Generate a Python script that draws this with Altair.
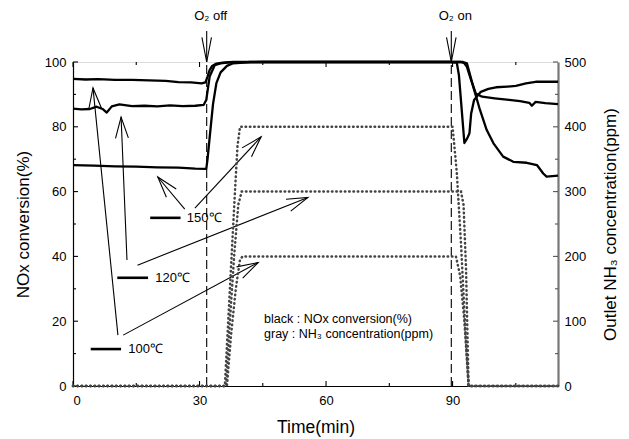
import altair as alt
import numpy as np
import pandas as pd

# ---------------- data ----------------
# NOx conversion (%) vs time (min)
t_100 = [0, 3, 6, 10, 14, 18, 22, 25, 28, 30.5, 31.4, 31.9, 32.4, 33.0, 34.0, 35.5, 38, 45, 60, 75, 89.5,
         91.0, 91.5, 92.0, 92.8, 93.5, 94.0, 94.4, 95.1, 96.7, 98.5, 100.3, 103, 105, 107.4, 109.7, 112, 115]
y_100 = [94.8, 94.6, 94.7, 94.5, 94.5, 94.3, 94.2, 93.8, 93.7, 93.4, 93.7, 95.5, 97.5, 98.8, 99.5, 99.8, 100, 100, 100, 100, 100,
         99.8, 96, 88, 75, 76.5, 78, 84, 88.3, 90.8, 91.7, 92.2, 92.4, 92.6, 93.4, 93.9, 93.9, 93.9]

t_120 = [0, 2, 4, 5.6, 7, 8, 9.2, 11, 14, 17, 20, 23, 26, 29, 31.0, 31.6, 32.4, 33.6, 35, 37, 45, 60, 75, 89.5,
         92.0, 92.8, 93.4, 94.4, 95.5, 97, 100, 103.4, 106, 108.2, 108.8, 109.7, 112, 115]
y_120 = [85.6, 85.4, 85.5, 86.2, 85.5, 84.4, 86.3, 86.9, 86.4, 86.5, 86.3, 86.6, 86.4, 86.5, 86.8, 88.3, 95.5, 99.0, 99.6, 99.9, 100, 100, 100, 100,
         100, 99.6, 98.5, 94.4, 90.3, 89.3, 88.8, 88.3, 87.9, 87.4, 86.5, 87.7, 87.3, 87.0]

t_150 = [0, 5, 10, 15, 20, 25, 29, 31.6, 31.9, 32.5, 33.2, 34.0, 35.0, 36.5, 38, 42, 60, 75, 89.5,
         92.5, 93.4, 94.9, 96.5, 98.1, 99.7, 102.0, 104.4, 107.6, 110.0, 111.5, 112.3, 115]
y_150 = [68.2, 68.0, 67.8, 67.7, 67.5, 67.4, 67.1, 67.0, 70, 78, 87, 93.5, 96.8, 98.8, 99.6, 100, 100, 100, 100,
         100, 99.6, 92.4, 85.2, 79.0, 74.9, 70.8, 69.2, 68.9, 68.2, 65.6, 64.6, 64.9]

# Outlet NH3 (ppm) vs time (min)
nh3_t_400 = [0, 36.0, 36.8, 37.6, 38.4, 39.0, 39.6, 90.0, 91.0, 92.0, 93.0, 93.8, 115]
nh3_y_400 = [0, 0, 100, 200, 300, 370, 400, 400, 330, 220, 90, 0, 0]
nh3_t_300 = [0, 36.3, 37.2, 38.2, 39.2, 40.0, 92.0, 92.6, 93.2, 93.8, 115]
nh3_y_300 = [0, 0, 100, 200, 280, 300, 300, 280, 180, 0, 0]
nh3_t_200 = [0, 36.5, 37.5, 38.6, 39.6, 40.2, 90.8, 91.8, 92.8, 93.8, 115]
nh3_y_200 = [0, 0, 80, 150, 195, 200, 200, 170, 100, 0, 0]

# O2 switching times
o2_t = [31.7, 89.7]
o2_text = ["O₂ off", "O₂ on"]

# temperature labels (legend-like annotations)
temp_labels = ["150℃", "120℃", "100℃"]
label_line_t0 = [18.3, 10.5, 4.2]
label_line_t1 = [25.5, 17.8, 11.4]
label_y = [51.9, 33.4, 11.4]
label_text_t = [27.0, 19.5, 13.1]

# annotation arrows (start -> tip), in data units (min, %)
arrow_t0 = [26.5, 28.9, 12.8, 15.3, 10.65, 11.9]
arrow_y0 = [54.6, 54.9, 38.9, 37.3, 15.7, 15.7]
arrow_t1 = [20.1, 44.6, 11.4, 55.7, 4.74, 43.9]
arrow_y1 = [64.5, 76.9, 83.0, 58.2, 92.0, 38.1]

note_lines = ["black : NOx conversion(%)", "gray : NH₃ concentration(ppm)"]

x_major = [0, 30, 60, 90]
x_minor = [15, 45, 75, 105]
y_major = [0, 20, 40, 60, 80, 100]
y_minor = [10, 30, 50, 70, 90]
r_major = [0, 100, 200, 300, 400, 500]
r_minor = [50, 150, 250, 350, 450]

# ---------------- build ----------------
W, H = 485, 324
TMAX = 115
sx, sy = W / TMAX, H / 100.0
FONT = "Liberation Sans"

def heads(t0s, y0s, t1s, y1s, L, phi_deg):
    rows = []
    phi = np.radians(phi_deg)
    for i, (a, b, c, d) in enumerate(zip(t0s, y0s, t1s, y1s)):
        dx, dy = (c - a) * sx, (d - b) * sy
        ang = np.arctan2(dy, dx)
        for k, s in enumerate([1, 0, -1]):
            if s == 0:
                rows.append({"id": i, "k": k, "t": c, "y": d})
            else:
                wx = c - L * np.cos(ang + s * phi) / sx
                wy = d - L * np.sin(ang + s * phi) / sy
                rows.append({"id": i, "k": k, "t": wx, "y": wy})
    return pd.DataFrame(rows)

nox = pd.concat([
    pd.DataFrame({"t": t_100, "y": y_100, "s": "100"}),
    pd.DataFrame({"t": t_120, "y": y_120, "s": "120"}),
    pd.DataFrame({"t": t_150, "y": y_150, "s": "150"}),
])
nh3 = pd.concat([
    pd.DataFrame({"t": nh3_t_400, "p": nh3_y_400, "s": "400"}),
    pd.DataFrame({"t": nh3_t_300, "p": nh3_y_300, "s": "300"}),
    pd.DataFrame({"t": nh3_t_200, "p": nh3_y_200, "s": "200"}),
])

xscale = alt.Scale(domain=[0, TMAX], nice=False, zero=False)
yscale = alt.Scale(domain=[0, 100], nice=False)
rscale = alt.Scale(domain=[0, 500], nice=False)

X = alt.X("t:Q", scale=xscale, title="Time(min)",
          axis=alt.Axis(values=x_major, tickSize=0, labelPadding=8, labelFontSize=13,
                        titleFontSize=17.5, titlePadding=11, grid=False,
                        domainColor="black", domainWidth=1.2, labelColor="black",
                        titleFontWeight="normal", labelFont=FONT, titleFont=FONT))
X2 = alt.X2("t2")
Y = alt.Y("y:Q", scale=yscale, title="NOx conversion(%)",
          axis=alt.Axis(values=y_major, tickSize=0, labelPadding=7, labelFontSize=13,
                        titleFontSize=17, titlePadding=12, grid=False, orient="left",
                        domainColor="black", domainWidth=1.2, labelColor="black",
                        titleFontWeight="normal", labelFont=FONT, titleFont=FONT))
R = alt.Y("p:Q", scale=rscale, title="Outlet NH₃ concentration(ppm)",
          axis=alt.Axis(values=r_major, tickSize=0, labelPadding=6, labelFontSize=13,
                        titleFontSize=17, grid=False, orient="right",
                        titleAngle=270, titleX=52, titleY=H / 2, titleAlign="center",
                        titleBaseline="middle",
                        domainColor="#777", domainWidth=2.2, labelColor="black",
                        titleFontWeight="normal", labelFont=FONT, titleFont=FONT))

nox_lines = alt.Chart(nox).mark_line(color="black", strokeWidth=2.3, strokeJoin="round").encode(
    x=X, y=Y, detail="s:N", order=alt.Order("t:Q"))

# dashed O2 lines
o2_df = pd.DataFrame({"t": o2_t, "y": [0, 0], "y2": [100, 100], "label": o2_text,
                      "ya": [109.6, 109.6], "yt": [114.3, 114.3]})
o2_rules = alt.Chart(o2_df).mark_rule(color="black", strokeWidth=1.1, strokeDash=[9, 4]).encode(
    x=X, y=Y, y2=alt.Y2("y2"))
o2_shaft = alt.Chart(o2_df).mark_rule(color="black", strokeWidth=1.1).encode(
    x=X, y=alt.Y("ya:Q", scale=yscale), y2=alt.Y2("y2"))
o2_heads = alt.Chart(heads(o2_t, [109.6, 109.6], o2_t, [100, 100], 25, 11)).mark_line(
    color="black", strokeWidth=1.1).encode(x=X, y=Y, detail="id:N", order=alt.Order("k:Q"))
o2_txt = alt.Chart(o2_df).mark_text(fontSize=13, font=FONT, color="black", dx=4).encode(
    x=X, y=alt.Y("yt:Q", scale=yscale), text="label:N")

# temperature labels
lab_df = pd.DataFrame({"t": label_line_t0, "t2": label_line_t1, "y": label_y,
                       "tt": label_text_t, "txt": temp_labels})
lab_lines = alt.Chart(lab_df).mark_rule(color="black", strokeWidth=2.6).encode(x=X, x2=X2, y=Y)
lab_txt = alt.Chart(lab_df).mark_text(fontSize=13, font=FONT, align="left", baseline="middle",
                                      color="black").encode(
    x=alt.X("tt:Q", scale=xscale), y=Y, text="txt:N")

# arrows
arr_df = pd.DataFrame({"t": arrow_t0, "y": arrow_y0, "t2": arrow_t1, "y2": arrow_y1})
arr_shafts = alt.Chart(arr_df).mark_rule(color="black", strokeWidth=1.1).encode(
    x=X, y=Y, x2=X2, y2=alt.Y2("y2"))
arr_heads = alt.Chart(heads(arrow_t0, arrow_y0, arrow_t1, arrow_y1, 22, 17)).mark_line(
    color="black", strokeWidth=1.1).encode(x=X, y=Y, detail="id:N", order=alt.Order("k:Q"))

# note text
note_df = pd.DataFrame({"t": [45.3, 45.3], "y": [20.6, 16.2], "txt": note_lines})
note = alt.Chart(note_df).mark_text(fontSize=12.5, font=FONT, align="left", baseline="middle",
                                    color="black").encode(x=X, y=Y, text="txt:N")

# inward ticks
def xticks(vals, y0, y1):
    return alt.Chart(pd.DataFrame({"t": vals})).mark_rule(color="black", strokeWidth=1.1).encode(
        x=X, y=alt.value(y0), y2=alt.value(y1))

def yticks(vals, x0, x1):
    return alt.Chart(pd.DataFrame({"y": vals})).mark_rule(color="black", strokeWidth=1.1).encode(
        y=Y, x=alt.value(x0), x2=alt.value(x1))

def rticks(vals, x0, x1):
    return alt.Chart(pd.DataFrame({"p": vals})).mark_rule(color="#555", strokeWidth=1.1).encode(
        y=R, x=alt.value(x0), x2=alt.value(x1))

left_group = alt.layer(
    nox_lines, o2_rules, o2_shaft, o2_heads, o2_txt, lab_lines, lab_txt, arr_shafts, arr_heads, note,
    xticks(x_major, H, H - 5), xticks(x_minor, H, H - 3),
    xticks(x_major, 0, 5), xticks(x_minor, 0, 3),
    yticks(y_major, 0, 5), yticks(y_minor, 0, 3),
)

nh3_lines = alt.Chart(nh3).mark_line(color="#444", strokeWidth=2.5, strokeDash=[0.5, 3.8],
                                     strokeCap="round").encode(
    x=X, y=R, detail="s:N", order=alt.Order("t:Q"))

right_group = alt.layer(nh3_lines, rticks(r_major, W, W - 5), rticks(r_minor, W, W - 3))

chart = alt.layer(left_group, right_group).resolve_scale(y="independent").properties(
    width=W, height=H,
    autosize=alt.AutoSizeParams(type="none"),
    padding={"left": 65, "top": 54, "right": 63, "bottom": 53},
).configure_view(stroke="black", strokeWidth=1.2).configure(background="white")

chart.save("out.html", embed_options={"renderer": "svg", "actions": False})
